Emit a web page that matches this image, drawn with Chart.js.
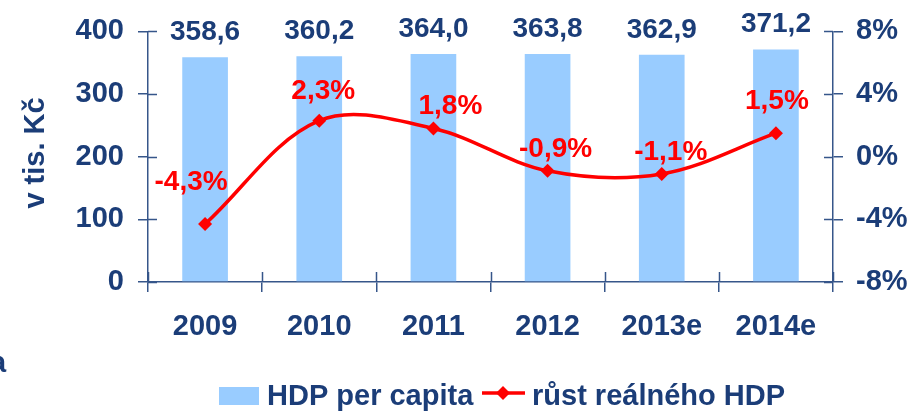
<!DOCTYPE html>
<html>
<head>
<meta charset="utf-8">
<script src="https://cdn.jsdelivr.net/npm/chart.js@4/dist/chart.umd.min.js"></script>
<style>
  body { margin: 0; background: #fff; }
  #c { display: block; }
</style>
</head>
<body>
<canvas id="c" width="918" height="412"></canvas>
<script>
// data
const years = ['2009', '2010', '2011', '2012', '2013e', '2014e'];
const hdpPerCapita = [358.6, 360.2, 364.0, 363.8, 362.9, 371.2];   // tis. Kč
const rustHdp = [-4.3, 2.3, 1.8, -0.9, -1.1, 1.5];                 // %
const leftTicks = [0, 100, 200, 300, 400];
const rightTicks = [-8, -4, 0, 4, 8];

const navy = '#1b3d78';
const axisCol = '#36568a';
const red = '#ff0000';
const barBlue = '#99ccff';
const font = '"Liberation Sans", Arial, sans-serif';

// nudges for the red labels (dx, dy from the point)
const redLabelNudge = [[-14, -34], [4, -22], [17, -15], [8, -14], [9, -14], [1, -24]];

const comma = v => v.toFixed(1).replace('.', ',');

const extras = {
  id: 'extras',
  afterDatasetsDraw(chart) {
    const ctx = chart.ctx;
    const area = chart.chartArea;
    const y = chart.scales.y, y1 = chart.scales.y1, x = chart.scales.x;

    // inner halves of the tick marks
    ctx.save();
    ctx.strokeStyle = axisCol;
    ctx.lineWidth = 1.5;
    ctx.beginPath();
    leftTicks.forEach(v => {
      const py = Math.round(y.getPixelForValue(v)) + 0.5;
      ctx.moveTo(area.left, py); ctx.lineTo(area.left + 9, py);
    });
    rightTicks.forEach(v => {
      const py = Math.round(y1.getPixelForValue(v)) + 0.5;
      ctx.moveTo(area.right - 9, py); ctx.lineTo(area.right, py);
    });
    for (let i = 0; i <= years.length; i++) {
      const px = Math.round(x.getPixelForValue(i - 0.5)) + 0.5;
      ctx.moveTo(px, area.bottom); ctx.lineTo(px, area.bottom - 10);
    }
    ctx.stroke();
    ctx.restore();

    // value labels
    ctx.save();
    ctx.textAlign = 'center';
    ctx.textBaseline = 'alphabetic';
    ctx.font = 'bold 28px ' + font;
    ctx.fillStyle = navy;
    chart.getDatasetMeta(0).data.forEach((bar, i) => {
      ctx.fillText(comma(hdpPerCapita[i]), bar.x, bar.y - 17);
    });
    ctx.fillStyle = red;
    ctx.font = 'bold 28px ' + font;
    chart.getDatasetMeta(1).data.forEach((pt, i) => {
      const n = redLabelNudge[i];
      ctx.fillText(comma(rustHdp[i]) + '%', pt.x + n[0], pt.y + n[1]);
    });
    ctx.restore();
  },
  afterDraw(chart) {
    const ctx = chart.ctx;
    ctx.save();
    // y axis title
    ctx.fillStyle = navy;
    ctx.font = 'bold 29px ' + font;
    ctx.translate(44, 153);
    ctx.rotate(-Math.PI / 2);
    ctx.textAlign = 'center';
    ctx.fillText('v tis. Kč', 0, 0);
    ctx.restore();

    // legend
    ctx.save();
    ctx.font = 'bold 29px ' + font;
    ctx.fillStyle = barBlue;
    ctx.fillRect(219, 387, 40, 18);
    ctx.fillStyle = navy;
    ctx.textBaseline = 'alphabetic';
    ctx.fillText('HDP per capita', 267, 405);
    ctx.strokeStyle = red;
    ctx.lineWidth = 3.5;
    ctx.beginPath();
    ctx.moveTo(482, 393); ctx.lineTo(525, 393);
    ctx.stroke();
    ctx.fillStyle = red;
    ctx.beginPath();
    ctx.moveTo(503, 386); ctx.lineTo(510, 393); ctx.lineTo(503, 400); ctx.lineTo(496, 393);
    ctx.closePath(); ctx.fill();
    ctx.fillStyle = navy;
    ctx.fillText('růst reálného HDP', 532, 405);

    // clipped letter at the left edge of the slide
    ctx.fillText('a', -10, 372);
    ctx.restore();
  }
};

new Chart(document.getElementById('c'), {
  data: {
    labels: years,
    datasets: [
      {
        type: 'bar',
        label: 'HDP per capita',
        data: hdpPerCapita,
        yAxisID: 'y',
        backgroundColor: barBlue,
        categoryPercentage: 1,
        barPercentage: 0.4,
        order: 1
      },
      {
        type: 'line',
        label: 'růst reálného HDP',
        data: rustHdp,
        yAxisID: 'y1',
        borderColor: red,
        backgroundColor: red,
        borderWidth: 3.5,
        tension: 0.35,
        pointStyle: 'rectRot',
        pointRadius: 7,
        pointBorderWidth: 0,
        order: 0
      }
    ]
  },
  options: {
    responsive: false,
    animation: false,
    layout: { padding: { top: 28, left: 0, right: 0, bottom: 0 } },
    plugins: { legend: { display: false }, tooltip: { enabled: false } },
    scales: {
      x: {
        offset: true,
        grid: { offset: true, drawOnChartArea: false, tickLength: 10, color: axisCol, lineWidth: 1.5 },
        border: { color: axisCol, width: 1.5 },
        ticks: { color: navy, font: { family: font, size: 29, weight: 'bold' }, padding: 18, maxRotation: 0 },
        afterFit(s) { s.height = 130; }
      },
      y: {
        position: 'left',
        min: 0, max: 400,
        afterBuildTicks(s) { s.ticks = leftTicks.map(v => ({ value: v })); },
        grid: { drawOnChartArea: false, tickLength: 10, color: axisCol, lineWidth: 1.5 },
        border: { color: axisCol, width: 1.5 },
        ticks: { color: navy, font: { family: font, size: 29, weight: 'bold' }, padding: 14 },
        afterFit(s) { s.width = 148; }
      },
      y1: {
        position: 'right',
        min: -8, max: 8,
        afterBuildTicks(s) { s.ticks = rightTicks.map(v => ({ value: v })); },
        grid: { drawOnChartArea: false, tickLength: 10, color: axisCol, lineWidth: 1.5 },
        border: { color: axisCol, width: 1.5 },
        ticks: { color: navy, font: { family: font, size: 29, weight: 'bold' }, padding: 13, callback: v => v + '%' },
        afterFit(s) { s.width = 85; }
      }
    }
  },
  plugins: [extras]
});
</script>
</body>
</html>
